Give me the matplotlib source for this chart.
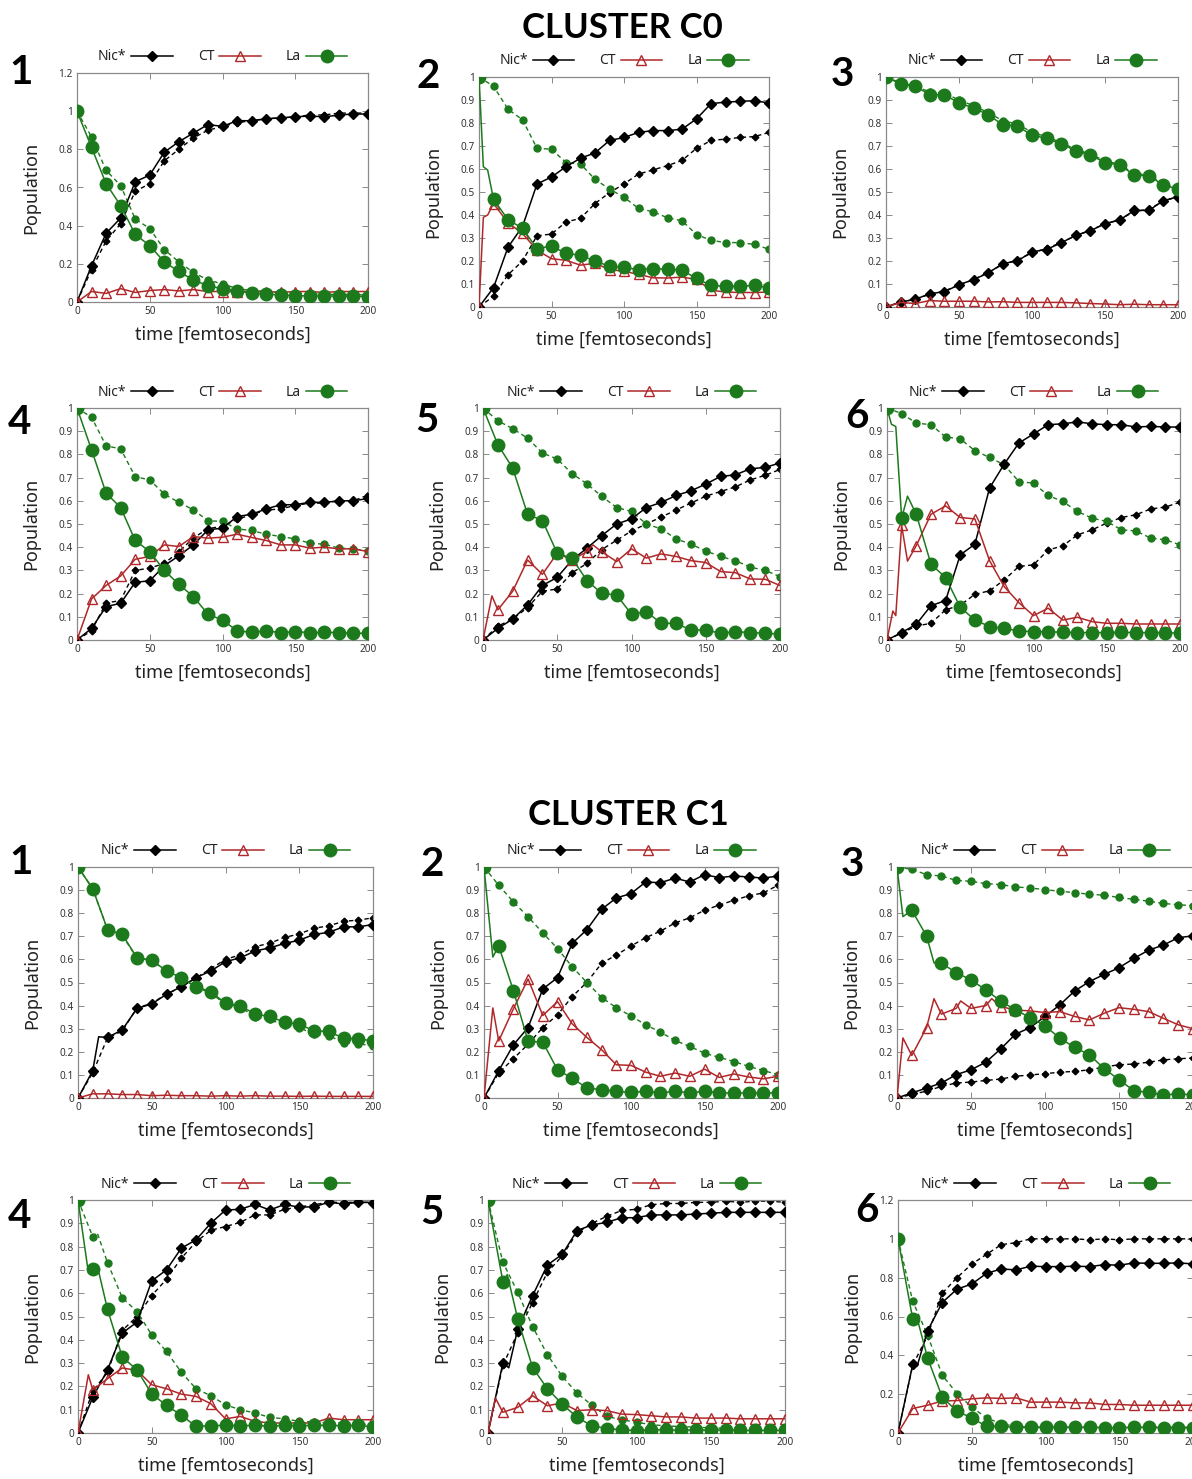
import numpy as np
import matplotlib
matplotlib.use("Agg")
import matplotlib.pyplot as plt
from matplotlib.ticker import MultipleLocator, FuncFormatter

plt.rcParams["font.family"] = ["Noto Sans", "DejaVu Sans"]

# ---------------------------------------------------------------- data
time_fs = list(range(0, 201, 10))

# Cluster C0, trajectory 1
c0_1_nic = [0, 0.19, 0.36, 0.44, 0.63, 0.665, 0.785, 0.84, 0.885, 0.93, 0.92, 0.95, 0.95, 0.96, 0.965, 0.97, 0.975, 0.97, 0.98, 0.985, 0.985]
c0_1_nic_ref = [0, 0.17, 0.32, 0.41, 0.58, 0.62, 0.74, 0.80, 0.86, 0.90, 0.92, 0.94, 0.95, 0.96, 0.965, 0.97, 0.98, 0.98, 0.99, 0.99, 0.99]
c0_1_ct = [0, 0.055, 0.045, 0.07, 0.05, 0.06, 0.065, 0.058, 0.065, 0.055, 0.055, 0.055, 0.055, 0.055, 0.05, 0.055, 0.055, 0.05, 0.055, 0.055, 0.055]
c0_1_la = [1, 0.81, 0.62, 0.505, 0.355, 0.295, 0.21, 0.16, 0.115, 0.085, 0.07, 0.058, 0.047, 0.04, 0.038, 0.032, 0.033, 0.03, 0.032, 0.03, 0.028]
c0_1_la_ref = [1, 0.865, 0.69, 0.61, 0.435, 0.385, 0.275, 0.21, 0.155, 0.115, 0.095, 0.07, 0.06, 0.055, 0.05, 0.045, 0.045, 0.04, 0.04, 0.04, 0.035]

# Cluster C0, trajectory 2
c0_2_nic = [0, 0.084, 0.26, 0.35, 0.535, 0.565, 0.61, 0.647, 0.67, 0.724, 0.737, 0.759, 0.767, 0.767, 0.773, 0.818, 0.884, 0.891, 0.894, 0.897, 0.887]
c0_2_nic_ref = [0, 0.047, 0.14, 0.2, 0.31, 0.317, 0.37, 0.385, 0.45, 0.497, 0.535, 0.578, 0.596, 0.615, 0.637, 0.69, 0.724, 0.73, 0.737, 0.741, 0.759]
c0_2_ct = [0, 0.45, 0.366, 0.32, 0.247, 0.21, 0.203, 0.182, 0.19, 0.163, 0.155, 0.142, 0.127, 0.126, 0.13, 0.12, 0.073, 0.065, 0.063, 0.063, 0.065]
c0_2_la = [1, 0.468, 0.38, 0.342, 0.254, 0.265, 0.233, 0.225, 0.2, 0.177, 0.172, 0.163, 0.167, 0.164, 0.16, 0.124, 0.094, 0.09, 0.09, 0.094, 0.084]
c0_2_la_ref = [1, 0.96, 0.86, 0.814, 0.69, 0.686, 0.628, 0.622, 0.555, 0.513, 0.477, 0.429, 0.414, 0.388, 0.375, 0.315, 0.29, 0.28, 0.28, 0.272, 0.251]

# Cluster C0, trajectory 3
c0_3_nic = [0, 0.022, 0.033, 0.058, 0.066, 0.097, 0.119, 0.148, 0.189, 0.2, 0.24, 0.25, 0.279, 0.312, 0.331, 0.363, 0.378, 0.42, 0.42, 0.462, 0.48]
c0_3_nic_ref = [0, 0.02, 0.035, 0.055, 0.07, 0.095, 0.12, 0.15, 0.185, 0.205, 0.235, 0.255, 0.28, 0.31, 0.335, 0.36, 0.38, 0.415, 0.425, 0.46, 0.48]
c0_3_ct = [0, 0.02, 0.015, 0.028, 0.025, 0.025, 0.025, 0.022, 0.023, 0.02, 0.02, 0.02, 0.02, 0.018, 0.015, 0.013, 0.01, 0.012, 0.01, 0.01, 0.01]
c0_3_la = [1, 0.97, 0.96, 0.923, 0.923, 0.887, 0.865, 0.836, 0.792, 0.788, 0.746, 0.734, 0.708, 0.68, 0.66, 0.628, 0.618, 0.574, 0.571, 0.53, 0.513]
c0_3_la_ref = [1, 0.975, 0.96, 0.935, 0.93, 0.9, 0.875, 0.845, 0.81, 0.795, 0.76, 0.74, 0.715, 0.685, 0.665, 0.635, 0.62, 0.58, 0.575, 0.535, 0.515]

# Cluster C0, trajectory 4
c0_4_nic = [0, 0.05, 0.144, 0.158, 0.249, 0.255, 0.32, 0.363, 0.41, 0.475, 0.482, 0.532, 0.542, 0.565, 0.583, 0.583, 0.594, 0.593, 0.6, 0.6, 0.61]
c0_4_nic_ref = [0, 0.04, 0.16, 0.17, 0.3, 0.31, 0.33, 0.38, 0.44, 0.48, 0.49, 0.52, 0.54, 0.56, 0.565, 0.58, 0.59, 0.59, 0.6, 0.6, 0.625]
c0_4_ct = [0, 0.177, 0.235, 0.276, 0.348, 0.36, 0.41, 0.403, 0.446, 0.439, 0.443, 0.456, 0.442, 0.429, 0.41, 0.41, 0.396, 0.4, 0.393, 0.393, 0.381]
c0_4_la = [1, 0.82, 0.633, 0.571, 0.429, 0.381, 0.3, 0.24, 0.187, 0.111, 0.086, 0.04, 0.033, 0.039, 0.032, 0.036, 0.032, 0.033, 0.032, 0.029, 0.029]
c0_4_la_ref = [1, 0.96, 0.837, 0.824, 0.704, 0.69, 0.629, 0.593, 0.561, 0.514, 0.511, 0.479, 0.472, 0.456, 0.446, 0.436, 0.417, 0.413, 0.396, 0.393, 0.384]

# Cluster C0, trajectory 5
c0_5_nic = [0, 0.05, 0.09, 0.151, 0.235, 0.27, 0.345, 0.396, 0.45, 0.5, 0.522, 0.571, 0.593, 0.623, 0.643, 0.672, 0.705, 0.712, 0.738, 0.744, 0.763]
c0_5_nic_ref = [0, 0.06, 0.09, 0.14, 0.21, 0.22, 0.29, 0.33, 0.39, 0.43, 0.47, 0.5, 0.53, 0.56, 0.59, 0.62, 0.64, 0.66, 0.69, 0.71, 0.735]
c0_5_ct = [0, 0.13, 0.21, 0.345, 0.283, 0.374, 0.345, 0.381, 0.38, 0.338, 0.393, 0.353, 0.371, 0.36, 0.342, 0.334, 0.295, 0.29, 0.263, 0.262, 0.235]
c0_5_la = [1, 0.842, 0.741, 0.542, 0.515, 0.374, 0.352, 0.256, 0.201, 0.194, 0.111, 0.122, 0.072, 0.072, 0.043, 0.043, 0.029, 0.036, 0.032, 0.029, 0.026]
c0_5_la_ref = [1, 0.945, 0.911, 0.87, 0.806, 0.78, 0.717, 0.673, 0.619, 0.571, 0.554, 0.5, 0.479, 0.436, 0.413, 0.384, 0.36, 0.342, 0.314, 0.3, 0.273]

# Cluster C0, trajectory 6
c0_6_nic = [0, 0.032, 0.068, 0.148, 0.17, 0.367, 0.413, 0.655, 0.758, 0.849, 0.888, 0.928, 0.932, 0.94, 0.932, 0.928, 0.928, 0.918, 0.921, 0.918, 0.918]
c0_6_nic_ref = [0, 0.03, 0.06, 0.072, 0.13, 0.15, 0.197, 0.212, 0.259, 0.317, 0.324, 0.388, 0.406, 0.453, 0.475, 0.504, 0.528, 0.54, 0.565, 0.573, 0.594]
c0_6_ct = [0, 0.494, 0.407, 0.542, 0.578, 0.528, 0.522, 0.342, 0.23, 0.161, 0.105, 0.137, 0.086, 0.098, 0.079, 0.072, 0.072, 0.069, 0.069, 0.069, 0.069]
c0_6_la = [1, 0.525, 0.542, 0.327, 0.269, 0.141, 0.086, 0.058, 0.05, 0.039, 0.036, 0.036, 0.033, 0.032, 0.032, 0.032, 0.033, 0.032, 0.032, 0.032, 0.029]
c0_6_la_ref = [1, 0.976, 0.935, 0.928, 0.875, 0.867, 0.816, 0.787, 0.755, 0.683, 0.676, 0.623, 0.597, 0.554, 0.525, 0.511, 0.475, 0.47, 0.439, 0.432, 0.41]

# Cluster C1, trajectory 1
c1_1_nic = [0, 0.118, 0.262, 0.295, 0.388, 0.407, 0.449, 0.482, 0.521, 0.55, 0.59, 0.607, 0.636, 0.65, 0.669, 0.683, 0.708, 0.717, 0.741, 0.741, 0.751]
c1_1_nic_ref = [0, 0.11, 0.26, 0.29, 0.39, 0.41, 0.45, 0.48, 0.52, 0.56, 0.6, 0.62, 0.655, 0.67, 0.695, 0.71, 0.735, 0.745, 0.765, 0.77, 0.78]
c1_1_ct = [0, 0.018, 0.018, 0.015, 0.015, 0.01, 0.012, 0.01, 0.01, 0.008, 0.01, 0.008, 0.01, 0.008, 0.008, 0.007, 0.008, 0.007, 0.007, 0.007, 0.007]
c1_1_la = [1, 0.906, 0.729, 0.708, 0.607, 0.597, 0.55, 0.521, 0.482, 0.46, 0.41, 0.4, 0.363, 0.353, 0.328, 0.319, 0.291, 0.288, 0.259, 0.256, 0.247]
c1_1_la_ref = [1, 0.905, 0.73, 0.705, 0.605, 0.595, 0.55, 0.52, 0.48, 0.455, 0.405, 0.395, 0.35, 0.34, 0.315, 0.305, 0.275, 0.27, 0.24, 0.235, 0.225]

# Cluster C1, trajectory 2
c1_2_nic = [0, 0.118, 0.23, 0.305, 0.472, 0.521, 0.669, 0.729, 0.817, 0.866, 0.885, 0.935, 0.932, 0.952, 0.935, 0.967, 0.954, 0.961, 0.957, 0.952, 0.961]
c1_2_nic_ref = [0, 0.108, 0.17, 0.233, 0.305, 0.36, 0.439, 0.501, 0.583, 0.619, 0.658, 0.694, 0.722, 0.758, 0.78, 0.813, 0.835, 0.856, 0.875, 0.888, 0.921]
c1_2_ct = [0, 0.247, 0.386, 0.515, 0.357, 0.417, 0.321, 0.262, 0.209, 0.144, 0.141, 0.112, 0.094, 0.108, 0.094, 0.125, 0.089, 0.104, 0.091, 0.083, 0.094]
c1_2_la = [1, 0.658, 0.465, 0.245, 0.242, 0.122, 0.086, 0.043, 0.036, 0.029, 0.024, 0.029, 0.022, 0.029, 0.022, 0.029, 0.022, 0.022, 0.022, 0.022, 0.022]
c1_2_la_ref = [1, 0.921, 0.849, 0.784, 0.715, 0.647, 0.568, 0.5, 0.435, 0.391, 0.355, 0.317, 0.285, 0.249, 0.223, 0.194, 0.176, 0.158, 0.137, 0.119, 0.101]

# Cluster C1, trajectory 3
c1_3_nic = [0, 0.022, 0.043, 0.065, 0.101, 0.122, 0.155, 0.212, 0.276, 0.305, 0.353, 0.403, 0.463, 0.504, 0.535, 0.564, 0.604, 0.64, 0.662, 0.694, 0.702]
c1_3_nic_ref = [0, 0.015, 0.03, 0.05, 0.065, 0.069, 0.076, 0.082, 0.094, 0.1, 0.105, 0.112, 0.115, 0.122, 0.134, 0.144, 0.147, 0.155, 0.165, 0.17, 0.173]
c1_3_ct = [0, 0.184, 0.305, 0.363, 0.388, 0.388, 0.4, 0.396, 0.381, 0.377, 0.37, 0.374, 0.353, 0.338, 0.367, 0.391, 0.384, 0.374, 0.345, 0.317, 0.3]
c1_3_la = [1, 0.813, 0.701, 0.583, 0.543, 0.511, 0.468, 0.42, 0.381, 0.348, 0.312, 0.259, 0.219, 0.187, 0.127, 0.079, 0.032, 0.024, 0.014, 0.017, 0.014]
c1_3_la_ref = [1, 0.99, 0.967, 0.961, 0.942, 0.938, 0.928, 0.924, 0.914, 0.909, 0.902, 0.895, 0.889, 0.882, 0.878, 0.868, 0.86, 0.852, 0.842, 0.837, 0.832]

# Cluster C1, trajectory 4
c1_4_nic = [0, 0.153, 0.271, 0.429, 0.476, 0.653, 0.7, 0.793, 0.829, 0.9, 0.957, 0.96, 0.981, 0.957, 0.981, 0.969, 0.971, 0.99, 0.983, 0.99, 0.989]
c1_4_nic_ref = [0, 0.18, 0.26, 0.44, 0.5, 0.59, 0.66, 0.75, 0.82, 0.87, 0.886, 0.904, 0.936, 0.936, 0.96, 0.97, 0.98, 0.99, 0.99, 0.99, 0.99]
c1_4_ct = [0, 0.185, 0.233, 0.279, 0.269, 0.207, 0.19, 0.167, 0.157, 0.126, 0.061, 0.071, 0.05, 0.043, 0.043, 0.043, 0.043, 0.064, 0.057, 0.057, 0.057]
c1_4_la = [1, 0.703, 0.531, 0.326, 0.271, 0.167, 0.119, 0.076, 0.029, 0.031, 0.033, 0.031, 0.033, 0.029, 0.033, 0.031, 0.033, 0.033, 0.031, 0.033, 0.026]
c1_4_la_ref = [1, 0.843, 0.731, 0.581, 0.521, 0.421, 0.35, 0.261, 0.19, 0.16, 0.121, 0.1, 0.086, 0.067, 0.061, 0.05, 0.047, 0.043, 0.043, 0.039, 0.036]

# Cluster C1, trajectory 5
c1_5_nic = [0, 0.3, 0.446, 0.589, 0.721, 0.767, 0.869, 0.893, 0.904, 0.924, 0.924, 0.936, 0.936, 0.936, 0.94, 0.943, 0.947, 0.947, 0.947, 0.947, 0.947]
c1_5_nic_ref = [0, 0.29, 0.43, 0.56, 0.69, 0.76, 0.86, 0.9, 0.93, 0.955, 0.96, 0.98, 0.985, 0.985, 0.99, 0.99, 0.995, 0.99, 0.995, 0.995, 0.99]
c1_5_ct = [0, 0.089, 0.11, 0.16, 0.117, 0.129, 0.096, 0.1, 0.096, 0.081, 0.079, 0.074, 0.069, 0.069, 0.064, 0.064, 0.064, 0.061, 0.061, 0.061, 0.061]
c1_5_la = [1, 0.65, 0.49, 0.281, 0.19, 0.124, 0.067, 0.031, 0.019, 0.014, 0.01, 0.014, 0.014, 0.011, 0.014, 0.011, 0.014, 0.011, 0.011, 0.011, 0.011]
c1_5_la_ref = [1, 0.733, 0.604, 0.457, 0.336, 0.243, 0.171, 0.119, 0.071, 0.057, 0.046, 0.036, 0.03, 0.028, 0.025, 0.022, 0.02, 0.02, 0.018, 0.018, 0.017]

# Cluster C1, trajectory 6
c1_6_nic = [0, 0.353, 0.526, 0.672, 0.741, 0.767, 0.822, 0.845, 0.84, 0.859, 0.857, 0.857, 0.859, 0.857, 0.867, 0.864, 0.876, 0.874, 0.874, 0.876, 0.871]
c1_6_nic_ref = [0, 0.35, 0.5, 0.72, 0.8, 0.87, 0.92, 0.97, 0.98, 1.0, 1.0, 1.0, 1.0, 0.995, 1.0, 0.995, 1.0, 1.0, 1.0, 1.0, 1.0]
c1_6_ct = [0, 0.126, 0.143, 0.165, 0.167, 0.176, 0.181, 0.178, 0.181, 0.159, 0.159, 0.159, 0.155, 0.155, 0.147, 0.147, 0.143, 0.143, 0.143, 0.143, 0.143]
c1_6_la = [1, 0.586, 0.388, 0.184, 0.112, 0.078, 0.034, 0.034, 0.029, 0.029, 0.029, 0.029, 0.029, 0.029, 0.027, 0.027, 0.029, 0.029, 0.027, 0.027, 0.026]
c1_6_la_ref = [1, 0.678, 0.505, 0.298, 0.203, 0.133, 0.078, 0.047, 0.035, 0.03, 0.03, 0.03, 0.03, 0.03, 0.03, 0.03, 0.03, 0.03, 0.03, 0.03, 0.03]

# Intermediate (off-grid) samples of the solid curves: (time, value)
c0_2_ct_mid = [(3, 0.39), (6, 0.40)]
c0_2_la_mid = [(3, 0.61), (6, 0.595)]
c0_5_ct_mid = [(6, 0.19), (74, 0.41)]
c0_6_ct_mid = [(4, 0.125), (6, 0.105), (14, 0.34)]
c0_6_la_mid = [(3, 0.93), (6, 0.92), (14, 0.62)]
c1_1_nic_mid = [(14, 0.265)]
c1_2_ct_mid = [(6, 0.39)]
c1_2_la_mid = [(6, 0.61)]
c1_3_ct_mid = [(4, 0.26), (25, 0.43), (43, 0.42), (64, 0.43)]
c1_3_la_mid = [(4, 0.785), (25, 0.585)]
c1_4_ct_mid = [(7, 0.25)]
c1_4_la_mid = [(7, 0.69), (13, 0.72)]
c1_4_la_ref_mid = [(13, 0.86)]
c1_5_nic_mid = [(14, 0.28)]
c1_5_ct_mid = [(5, 0.15)]
c1_5_la_mid = [(13, 0.68)]
c1_6_nic_mid = [(13, 0.345)]
c1_6_la_mid = [(13, 0.59)]

panel_numbers = ["1", "2", "3", "4", "5", "6"]
cluster_titles = ["CLUSTER C0", "CLUSTER C1"]
series_labels = ["Nic*", "CT", "La"]
x_label = "time [femtoseconds]"
y_label = "Population"

# ---------------------------------------------------------------- style
BLACK = "#000000"
RED = "#b0282a"
GREEN = "#1c7a1c"
FRAME = "#8a8a8a"
TEXT = "#222222"

W, H = 1192, 1479
DPI = 100

panels = []
for cl in ("c0", "c1"):
    for k in range(1, 7):
        g = globals()
        key = f"{cl}_{k}"
        panels.append(dict(
            nic=g[f"{key}_nic"], nic_ref=g[f"{key}_nic_ref"], ct=g[f"{key}_ct"],
            la=g[f"{key}_la"], la_ref=g[f"{key}_la_ref"],
            nic_mid=g.get(f"{key}_nic_mid", []), ct_mid=g.get(f"{key}_ct_mid", []),
            la_mid=g.get(f"{key}_la_mid", []), la_ref_mid=g.get(f"{key}_la_ref_mid", []),
        ))

# axes boxes in pixels: left, top, right, bottom
boxes = [
    (77, 73, 368, 302), (479, 77, 769, 307), (886, 77, 1178, 307),
    (77, 408, 368, 640), (483, 408, 780, 640), (887, 408, 1180, 640),
    (78, 867, 373, 1098), (484, 867, 778, 1098), (897, 867, 1193, 1098),
    (78, 1200, 373, 1433), (488, 1200, 785, 1433), (898, 1200, 1193, 1433),
]
ymax = [1.2, 1, 1, 1, 1, 1, 1, 1, 1, 1, 1, 1.2]
number_pos = [(21, 73), (428, 77), (842, 75), (19, 423), (427, 421), (857, 416),
              (21, 863), (432, 865), (852, 865), (19, 1216), (432, 1213), (867, 1211)]
title_pos = [(622, 28), (628, 815)]


def merged(grid, values, extra):
    t = np.asarray(grid, dtype=float)
    y = np.asarray(values, dtype=float)
    if extra:
        et, ey = zip(*extra)
        t = np.concatenate([t, et])
        y = np.concatenate([y, ey])
    order = np.argsort(t, kind="stable")
    t, y = t[order], y[order]
    grid_set = set(grid)
    marks = [i for i, v in enumerate(t) if v in grid_set]
    return t, y, marks


fig = plt.figure(figsize=(W / DPI, H / DPI), dpi=DPI)
fig.patch.set_facecolor("white")

fmt = FuncFormatter(lambda v, _: f"{v:g}")
dash = (0, (3.2, 2.4))

for i, (p, (l, t, r, b)) in enumerate(zip(panels, boxes)):
    ax = fig.add_axes([l / W, 1 - b / H, (r - l) / W, (b - t) / H])
    hpx = b - t

    tt, yy, mk = merged(time_fs, p["nic_ref"], [])
    ax.plot(tt, yy, ls=dash, color=BLACK, lw=1.0, marker="D", ms=3.4,
            markevery=mk, zorder=2)
    tt, yy, mk = merged(time_fs, p["la_ref"], p["la_ref_mid"])
    ax.plot(tt, yy, ls=dash, color=GREEN, lw=1.0, marker="o", ms=5.0,
            markevery=mk, zorder=2)

    tt, yy, mk = merged(time_fs, p["nic"], p["nic_mid"])
    h_nic, = ax.plot(tt, yy, color=BLACK, lw=1.1, marker="D", ms=5.6,
                     markevery=mk, zorder=3, label=series_labels[0])
    tt, yy, mk = merged(time_fs, p["ct"], p["ct_mid"])
    h_ct, = ax.plot(tt, yy, color=RED, lw=1.1, marker="^", ms=7.0,
                    mfc="none", mec=RED, mew=1.0, markevery=mk, zorder=4,
                    label=series_labels[1])
    tt, yy, mk = merged(time_fs, p["la"], p["la_mid"])
    h_la, = ax.plot(tt, yy, color=GREEN, lw=1.1, marker="o", ms=9.0,
                    markevery=mk, zorder=5, label=series_labels[2])

    ax.set_xlim(0, 200)
    ax.set_ylim(0, ymax[i])
    ax.xaxis.set_major_locator(MultipleLocator(50))
    ax.yaxis.set_major_locator(MultipleLocator(0.2 if ymax[i] > 1.1 else 0.1))
    ax.xaxis.set_major_formatter(fmt)
    ax.yaxis.set_major_formatter(fmt)
    ax.tick_params(direction="in", top=True, right=True, length=4, width=0.7,
                   color=FRAME, labelsize=7.2, labelcolor="#333333", pad=3)
    for s in ax.spines.values():
        s.set_color(FRAME)
        s.set_linewidth(0.9)

    ax.set_xlabel(x_label, fontsize=13, color=TEXT, va="center", ha="center")
    ax.xaxis.set_label_coords(0.5, -33 / hpx)
    ax.set_ylabel(y_label, fontsize=13, color=TEXT, va="center", ha="center")
    ax.yaxis.set_label_coords(-46 / (r - l), 0.5)

    ax.legend(handles=[h_nic, h_ct, h_la], loc="center",
              bbox_to_anchor=(0.5, 1 + 16 / hpx), ncol=3, frameon=False,
              markerfirst=False, fontsize=10, handlelength=3.0,
              handletextpad=0.35, columnspacing=1.8, borderpad=0,
              labelcolor=TEXT)

    nx, ny = number_pos[i]
    fig.text(nx / W, 1 - ny / H, panel_numbers[i % 6], fontsize=29,
             fontweight="bold", family="Lato", ha="center", va="center",
             color=BLACK, zorder=10)

for (tx, ty), title in zip(title_pos, cluster_titles):
    fig.text(tx / W, 1 - ty / H, title, fontsize=25, fontweight="bold",
             family="Lato", ha="center", va="center", color=BLACK)

fig.savefig("out.png", dpi=DPI)
